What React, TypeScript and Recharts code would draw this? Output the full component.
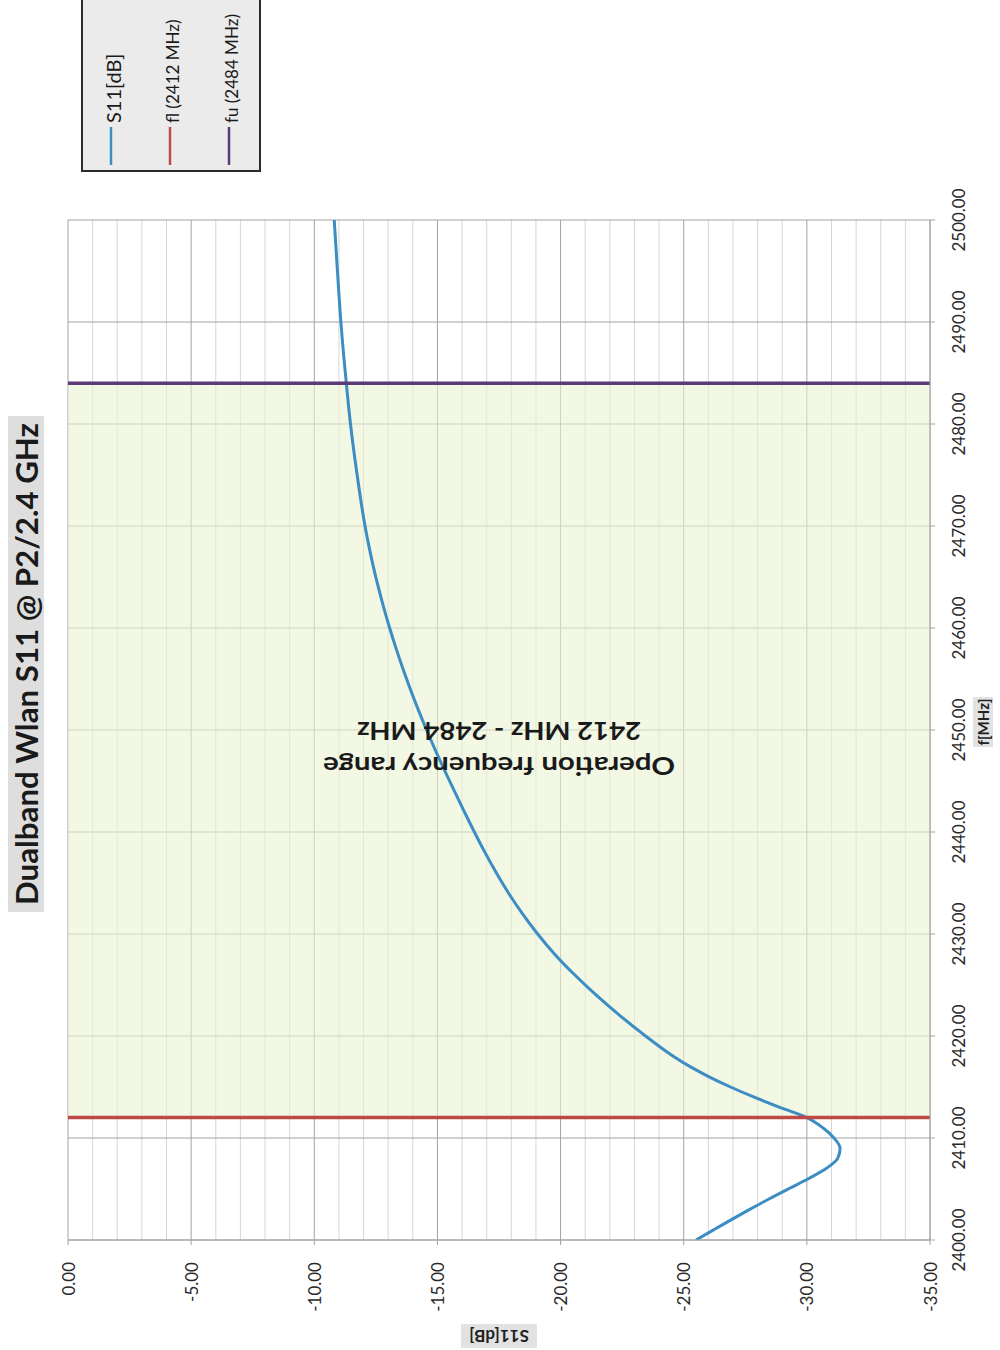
import React from 'react';
import {
  ComposedChart,
  Line,
  XAxis,
  YAxis,
  CartesianGrid,
  ReferenceArea,
  ReferenceDot,
  Legend,
  Label,
} from 'recharts';

// ---------- data ----------
const freqMHz = [
  2400, 2401, 2402, 2403, 2404, 2405, 2406, 2407, 2408, 2409, 2410, 2411, 2412, 2413, 2414, 2415, 2416, 2417, 2418, 2419, 2420,
  2422, 2424, 2426, 2428, 2430, 2432, 2434, 2436, 2438, 2440, 2442, 2444, 2446, 2448, 2450, 2452, 2454, 2456, 2458, 2460,
  2462, 2464, 2466, 2468, 2470, 2475, 2480, 2484, 2490, 2495, 2500,
];
const s11dB = [
  -25.5, -26.22, -26.94, -27.68, -28.44, -29.24, -30.06, -30.78, -31.25, -31.35, -31.1, -30.65, -30.0, -28.9, -27.86, -26.9, -26.03, -25.26, -24.59, -24.0, -23.45,
  -22.41, -21.45, -20.57, -19.77, -19.07, -18.45, -17.89, -17.39, -16.93, -16.5, -16.09, -15.69, -15.3, -14.92, -14.56, -14.22, -13.9, -13.6, -13.32, -13.06,
  -12.82, -12.6, -12.4, -12.22, -12.06, -11.74, -11.47, -11.3, -11.08, -10.94, -10.81,
];
const flMHz = 2412;
const fuMHz = 2484;
const s11Domain = [-35, 0];
const freqDomain = [2400, 2500];
const s11Ticks = [0, -5, -10, -15, -20, -25, -30, -35];
const s11MinorTicks = [
  -1, -2, -3, -4, -6, -7, -8, -9, -11, -12, -13, -14, -16, -17, -18, -19, -21, -22, -23, -24, -26, -27, -28, -29, -31, -32, -33, -34,
];
const freqTicks = [2400, 2410, 2420, 2430, 2440, 2450, 2460, 2470, 2480, 2490, 2500];
const seriesNames = ['S11[dB]', 'fl (2412 MHz)', 'fu (2484 MHz)'];
const seriesColors = ['#3c8dc4', '#bd4a45', '#5c3a78'];
const chartTitle = 'Dualband Wlan S11 @ P2/2.4 GHz';
const xAxisTitle = 'S11[dB]';
const yAxisTitle = 'f[MHz]';
const bandText = ['Operation frequency range', '2412 MHz - 2484 MHz'];
const bandTextAt = { s11: -17.5, f: 2448 };

const s11Data = freqMHz.map((f, i) => ({ f, s11: s11dB[i] }));
const flData = s11Domain.map((v) => ({ f: flMHz, s11: v }));
const fuData = s11Domain.map((v) => ({ f: fuMHz, s11: v }));

const FONT = "Lato, 'Open Sans', sans-serif";

// ---------- custom renderers ----------
const XTick = (props: any) => {
  const { x, y, payload } = props;
  const ty = y + 15;
  return (
    <text
      x={x}
      y={ty}
      transform={`rotate(-90 ${x} ${ty})`}
      textAnchor="end"
      dominantBaseline="central"
      fontFamily={FONT}
      fontSize={17}
      fill="#2a2a2a"
    >
      {Number(payload.value).toFixed(2)}
    </text>
  );
};

const YTick = (props: any) => {
  const { x, y, payload } = props;
  const tx = x + 21;
  return (
    <text
      x={tx}
      y={y}
      transform={`rotate(-90 ${tx} ${y})`}
      textAnchor="middle"
      dominantBaseline="central"
      fontFamily={FONT}
      fontSize={17}
      fill="#2a2a2a"
    >
      {Number(payload.value).toFixed(2)}
    </text>
  );
};

const XTitle = (props: any) => {
  const vb = props.viewBox || {};
  const cx = vb.x + vb.width / 2;
  const cy = vb.y + 96;
  return (
    <g transform={`rotate(180 ${cx} ${cy})`}>
      <rect x={cx - 38} y={cy - 12} width={76} height={24} fill="#e2e2e2" />
      <text x={cx} y={cy} textAnchor="middle" dominantBaseline="central" fontFamily={FONT} fontWeight="bold" fontSize={17} fill="#222">
        {xAxisTitle}
      </text>
    </g>
  );
};

const YTitle = (props: any) => {
  const vb = props.viewBox || {};
  const cx = vb.x + 53;
  const cy = vb.y + vb.height / 2 - 8;
  return (
    <g transform={`rotate(-90 ${cx} ${cy})`}>
      <rect x={cx - 25} y={cy - 10} width={50} height={20} fill="#e2e2e2" />
      <text x={cx} y={cy} textAnchor="middle" dominantBaseline="central" fontFamily={FONT} fontWeight="bold" fontSize={15} fill="#222">
        {yAxisTitle}
      </text>
    </g>
  );
};

const BandText = (props: any) => {
  const { cx, cy } = props;
  return (
    <g transform={`rotate(180 ${cx} ${cy})`}>
      <text x={cx} y={cy - 17} textAnchor="middle" dominantBaseline="central" fontFamily={FONT} fontWeight="bold" fontSize={25} fill="#1a1a1a" textLength={352} lengthAdjust="spacingAndGlyphs">
        {bandText[0]}
      </text>
      <text x={cx} y={cy + 18} textAnchor="middle" dominantBaseline="central" fontFamily={FONT} fontWeight="bold" fontSize={25} fill="#1a1a1a" textLength={284} lengthAdjust="spacingAndGlyphs">
        {bandText[1]}
      </text>
    </g>
  );
};

const LegendBox = (props: any) => {
  const items = props.payload || [];
  return (
    <div style={{ width: 180, height: 174, border: '2px solid #2b2b2b', background: '#ebebeb', boxSizing: 'border-box' }}>
      <svg width={176} height={170} style={{ display: 'block' }}>
        {items.map((it: any, i: number) => {
          const x = 28 + i * 59;
          const ty = 123;
          return (
            <g key={i}>
              <line x1={x} x2={x} y1={127} y2={165} stroke={it.color} strokeWidth={2.5} />
              <text
                x={x + 2}
                y={ty}
                transform={`rotate(-90 ${x + 2} ${ty})`}
                dominantBaseline="central"
                fontFamily={FONT}
                fontSize={i === 0 ? 20 : 17}
                fill="#1a1a1a"
              >
                {it.value}
              </text>
            </g>
          );
        })}
      </svg>
    </div>
  );
};

export default function App() {
  return (
    <div style={{ position: 'absolute', left: 0, top: 0, width: 1000, height: 1350, background: '#fff' }}>
      <svg width={60} height={1350} style={{ position: 'absolute', left: 0, top: 0 }}>
        <rect x={8} y={416} width={36} height={496} fill="#dedede" />
        <text
          x={26}
          y={664}
          transform="rotate(-90 26 664)"
          textAnchor="middle"
          dominantBaseline="central"
          fontFamily={FONT}
          fontWeight="bold"
          fontSize={30}
          fill="#1a1a1a"
          textLength={482}
          lengthAdjust="spacingAndGlyphs"
        >
          {chartTitle}
        </text>
      </svg>
      <div style={{ position: 'absolute', left: 0, top: 0 }}>
        <ComposedChart
          width={1000}
          height={1350}
          layout="vertical"
          margin={{ top: 220, right: 10, bottom: 50, left: 68 }}
        >
          <CartesianGrid verticalValues={s11MinorTicks} horizontal={false} stroke="#d6d6d6" strokeWidth={1} />
          <ReferenceArea y1={flMHz} y2={fuMHz} fill="#e9f3d2" fillOpacity={0.6} stroke="none" ifOverflow="hidden" />
          <CartesianGrid stroke="#a3a3a3" strokeWidth={1} />
          <XAxis
            type="number"
            domain={s11Domain}
            reversed
            ticks={s11Ticks}
            interval={0}
            allowDataOverflow
            height={60}
            tickSize={5}
            axisLine={{ stroke: '#a3a3a3' }}
            tickLine={{ stroke: '#a3a3a3' }}
            tick={<XTick />}
          >
            <Label content={<XTitle />} />
          </XAxis>
          <YAxis
            type="number"
            dataKey="f"
            orientation="right"
            domain={freqDomain}
            reversed
            ticks={freqTicks}
            interval={0}
            allowDataOverflow
            width={60}
            tickSize={5}
            axisLine={{ stroke: '#a3a3a3' }}
            tickLine={{ stroke: '#a3a3a3' }}
            tick={<YTick />}
          >
            <Label content={<YTitle />} />
          </YAxis>
          <Line
            data={s11Data}
            dataKey="s11"
            name={seriesNames[0]}
            type="monotone"
            stroke={seriesColors[0]}
            strokeWidth={3}
            dot={false}
            activeDot={false}
            isAnimationActive={false}
          />
          <Line
            data={flData}
            dataKey="s11"
            name={seriesNames[1]}
            type="linear"
            stroke={seriesColors[1]}
            strokeWidth={3.5}
            dot={false}
            activeDot={false}
            isAnimationActive={false}
          />
          <Line
            data={fuData}
            dataKey="s11"
            name={seriesNames[2]}
            type="linear"
            stroke={seriesColors[2]}
            strokeWidth={3.5}
            dot={false}
            activeDot={false}
            isAnimationActive={false}
          />
          <ReferenceDot x={bandTextAt.s11} y={bandTextAt.f} r={0} shape={(p: any) => <BandText {...p} />} />
          <Legend
            layout="horizontal"
            verticalAlign="middle"
            align="center"
            content={(p: any) => <LegendBox {...p} />}
            wrapperStyle={{ position: 'absolute', left: 81, top: -2, width: 180, height: 174 }}
          />
        </ComposedChart>
      </div>
    </div>
  );
}
